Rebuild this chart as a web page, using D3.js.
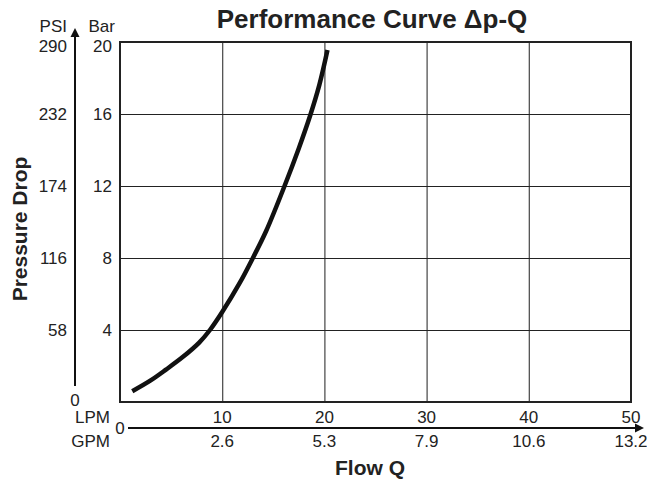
<!DOCTYPE html>
<html>
<head>
<meta charset="utf-8">
<script src="https://cdn.jsdelivr.net/npm/d3@7"></script>
<style>
  body { margin: 0; background: #fff; }
  text { font-family: "Liberation Sans", Arial, sans-serif; fill: #222; }
</style>
</head>
<body>
<div id="chart"></div>
<script>
'use strict';

// Chart data ======================

// Flow in LPM, pressure drop in bar
var flowLPM = [1.2, 3.0, 4.5, 6.1, 7.75, 8.8, 10.0, 11.7, 13.0, 14.3, 16.1, 17.5, 18.6, 19.5, 20.3];
var dropBar = [0.6, 1.2, 1.8, 2.48, 3.3, 4.0, 5.0, 6.6, 8.0, 9.5, 12.0, 14.1, 15.9, 17.6, 19.55];

// Tick labels
var barTicks = [4, 8, 12, 16, 20];
var psiTicks = ['58', '116', '174', '232', '290'];
var lpmTicks = [10, 20, 30, 40, 50];
var gpmTicks = ['2.6', '5.3', '7.9', '10.6', '13.2'];

var width = 647;
var height = 481;

// Plot frame (named so they don't clash with window.top etc.)
var plotLeft = 120, plotRight = 631, plotTop = 42, plotBottom = 402;

var svg = d3.select('#chart').append('svg')
  .attr('width', width)
  .attr('height', height);

var x = d3.scaleLinear().domain([0, 50]).range([plotLeft, plotRight]);
var y = d3.scaleLinear().domain([0, 20]).range([plotBottom, plotTop]);

// Grid lines
svg.append('g')
  .attr('transform', 'translate(0,' + plotBottom + ')')
  .call(d3.axisBottom(x).tickValues([10, 20, 30, 40]).tickSize(-(plotBottom - plotTop)).tickFormat(''))
  .call(function (g) {
    g.select('.domain').remove();
    g.selectAll('line').attr('stroke', '#444').attr('stroke-width', 1.2);
  });

svg.append('g')
  .attr('transform', 'translate(' + plotLeft + ',0)')
  .call(d3.axisLeft(y).tickValues([4, 8, 12, 16]).tickSize(-(plotRight - plotLeft)).tickFormat(''))
  .call(function (g) {
    g.select('.domain').remove();
    g.selectAll('line').attr('stroke', '#222').attr('stroke-width', 1.2);
  });

// Frame
svg.append('rect')
  .attr('x', plotLeft)
  .attr('y', plotTop)
  .attr('width', plotRight - plotLeft)
  .attr('height', plotBottom - plotTop)
  .attr('fill', 'none')
  .attr('stroke', '#222')
  .attr('stroke-width', 2);

// Curve
var line = d3.line()
  .x(function (d, i) { return x(flowLPM[i]); })
  .y(function (d, i) { return y(dropBar[i]); })
  .curve(d3.curveCatmullRom.alpha(0.5));

svg.append('path')
  .datum(flowLPM)
  .attr('d', line)
  .attr('fill', 'none')
  .attr('stroke', '#111')
  .attr('stroke-width', 4.5);

// Bar labels (inner y labels)
svg.selectAll('.barlabel')
  .data(barTicks)
  .enter().append('text')
  .attr('class', 'barlabel')
  .attr('x', 112)
  .attr('y', function (d) { return y(d) + (d === 20 ? 10 : 6); })
  .attr('text-anchor', 'end')
  .style('font-size', '17px')
  .text(function (d) { return d; });

// PSI labels (outer y labels)
svg.selectAll('.psilabel')
  .data(barTicks)
  .enter().append('text')
  .attr('class', 'psilabel')
  .attr('x', 67)
  .attr('y', function (d) { return y(d) + (d === 20 ? 10 : 6); })
  .attr('text-anchor', 'end')
  .style('font-size', '17px')
  .text(function (d, i) { return psiTicks[i]; });

svg.append('text').attr('x', 67).attr('y', 32).attr('text-anchor', 'end')
  .style('font-size', '17px').text('PSI');
svg.append('text').attr('x', 115).attr('y', 32).attr('text-anchor', 'end')
  .style('font-size', '17px').text('Bar');
svg.append('text').attr('x', 75).attr('y', 406).attr('text-anchor', 'middle')
  .style('font-size', '17px').text('0');

// Y arrow
svg.append('line')
  .attr('x1', 75).attr('x2', 75)
  .attr('y1', 386).attr('y2', 34)
  .attr('stroke', '#111').attr('stroke-width', 2);
svg.append('path')
  .attr('d', 'M75,28L70.5,37L79.5,37Z')
  .attr('fill', '#111');

// X arrow
svg.append('line')
  .attr('x1', 128).attr('x2', 637)
  .attr('y1', 428).attr('y2', 428)
  .attr('stroke', '#111').attr('stroke-width', 2);
svg.append('path')
  .attr('d', 'M644,428L635,423.5L635,432.5Z')
  .attr('fill', '#111');

// LPM and GPM labels
svg.selectAll('.lpmlabel')
  .data(lpmTicks)
  .enter().append('text')
  .attr('class', 'lpmlabel')
  .attr('x', function (d) { return x(d); })
  .attr('y', 423)
  .attr('text-anchor', 'middle')
  .style('font-size', '17px')
  .text(function (d) { return d; });

svg.selectAll('.gpmlabel')
  .data(lpmTicks)
  .enter().append('text')
  .attr('class', 'gpmlabel')
  .attr('x', function (d) { return x(d); })
  .attr('y', 447)
  .attr('text-anchor', 'middle')
  .style('font-size', '17px')
  .text(function (d, i) { return gpmTicks[i]; });

svg.append('text').attr('x', 110).attr('y', 423).attr('text-anchor', 'end')
  .style('font-size', '17px').text('LPM');
svg.append('text').attr('x', 110).attr('y', 447).attr('text-anchor', 'end')
  .style('font-size', '17px').text('GPM');
svg.append('text').attr('x', 120).attr('y', 434).attr('text-anchor', 'middle')
  .style('font-size', '17px').text('0');

// Titles
svg.append('text')
  .attr('x', 372).attr('y', 28)
  .attr('text-anchor', 'middle')
  .style('font-size', '26px').style('font-weight', 'bold')
  .text('Performance Curve \u0394p-Q');

svg.append('text')
  .attr('x', 370).attr('y', 475)
  .attr('text-anchor', 'middle')
  .style('font-size', '21px').style('font-weight', 'bold')
  .text('Flow Q');

svg.append('text')
  .attr('transform', 'translate(27,229) rotate(-90)')
  .attr('text-anchor', 'middle')
  .style('font-size', '21px').style('font-weight', 'bold')
  .text('Pressure Drop');
</script>
</body>
</html>
